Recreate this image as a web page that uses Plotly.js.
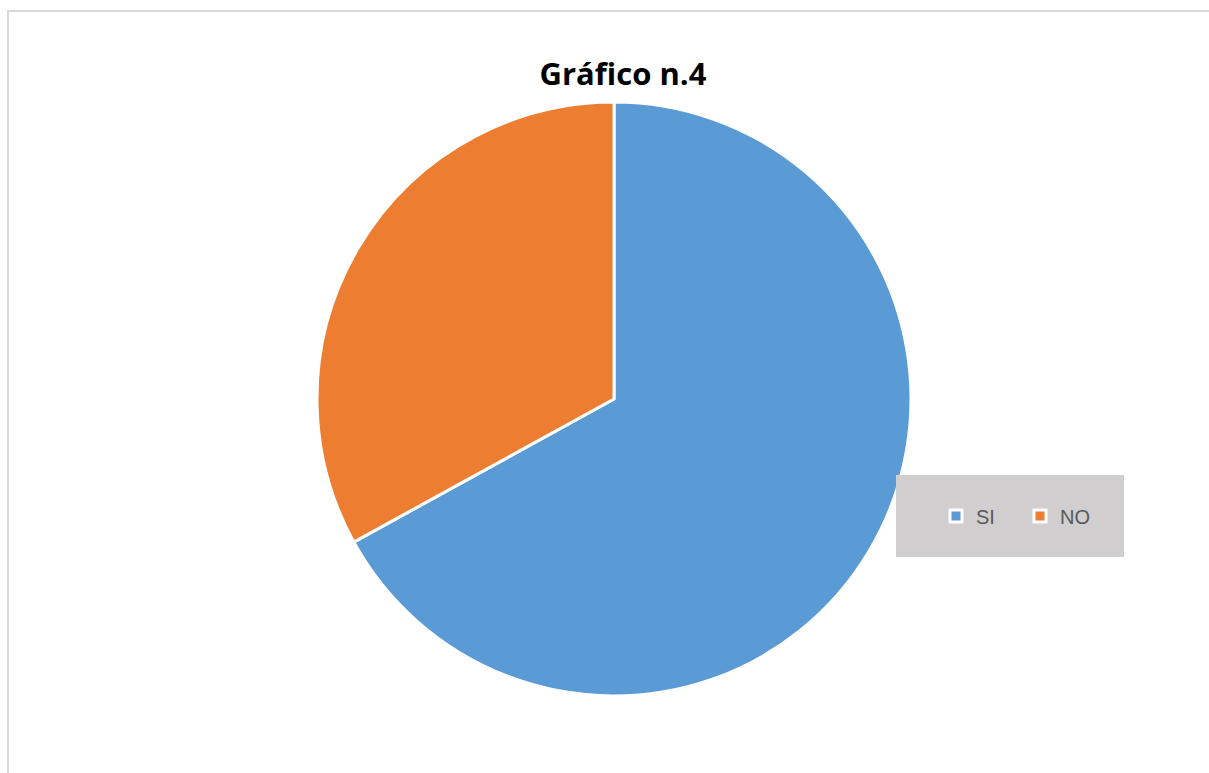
<!DOCTYPE html>
<html>
<head>
<meta charset="utf-8">
<script src="https://cdn.plot.ly/plotly-3.0.1.min.js"></script>
<style>html,body{margin:0;padding:0;background:#fff;}#chart{width:1209px;height:773px;}</style>
</head>
<body>
<div id="chart"></div>
<script>
const categories = ["SI", "NO"];
const values = [67, 33];
const colors = ["#5B9BD5", "#ED7D31"];
const chartTitle = "Gráfico n.4";

const W = 1209, H = 773;
const cx = 614, cy = 399, r = 297;

const data = [{
  type: "pie",
  labels: categories,
  values: values,
  sort: false,
  direction: "clockwise",
  rotation: 0,
  textinfo: "none",
  hoverinfo: "label+percent",
  marker: { colors: colors, line: { color: "#ffffff", width: 3 } },
  domain: { x: [(cx - r) / W, (cx + r) / W], y: [(H - cy - r) / H, (H - cy + r) / H] }
}];

const layout = {
  width: W, height: H,
  margin: { l: 0, r: 0, t: 0, b: 0 },
  paper_bgcolor: "#ffffff",
  title: {
    text: "<b>" + chartTitle + "</b>",
    font: { family: "Open Sans, sans-serif", size: 31, color: "#000000" },
    x: 623 / W, xanchor: "center",
    y: 1 - 74 / H, yanchor: "middle", yref: "container", xref: "container"
  },
  showlegend: true,
  legend: {
    orientation: "h",
    x: 936 / W, xanchor: "left",
    y: 1 - 516 / H, yanchor: "middle",
    bgcolor: "rgba(0,0,0,0)",
    font: { family: "Liberation Sans, Arial, sans-serif", size: 20, color: "#595959" },
    itemwidth: 30,
    entrywidth: 39,
    entrywidthmode: "pixels",
    traceorder: "normal"
  },
  shapes: [
    { type: "rect", xref: "paper", yref: "paper", layer: "above",
      x0: 896 / W, x1: 1124 / W, y0: 1 - 557 / H, y1: 1 - 475 / H,
      fillcolor: "#D0CECE", line: { width: 0 } },
    { type: "rect", xref: "paper", yref: "paper", layer: "below",
      x0: 8 / W, x1: 1.01, y0: -0.01, y1: 1 - 11 / H,
      fillcolor: "rgba(0,0,0,0)", line: { color: "#D9D9D9", width: 2 } }
  ]
};

Plotly.newPlot("chart", data, layout, { displayModeBar: false, staticPlot: true });
</script>
</body>
</html>
